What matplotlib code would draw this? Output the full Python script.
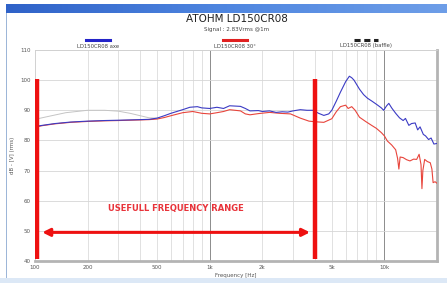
import numpy as np
import matplotlib
matplotlib.use("Agg")
import matplotlib.pyplot as plt
from matplotlib.patches import Rectangle

# -- data ------------------------------------------------------------------
AXE_FREQ = [100, 110, 130, 160, 200, 250, 300, 400, 450, 500, 550, 600, 700,
            770, 850, 900, 1000, 1100, 1200, 1300, 1500, 1600, 1700, 1900,
            2000, 2200, 2400, 2600, 2800, 3000, 3300, 3600, 3900, 4200, 4500,
            4800, 5000, 5300, 5600, 6000, 6300, 6500, 6700, 7200, 7600, 8000,
            8500, 9100, 9600, 9900, 10300, 10600, 11000, 11600, 12200, 12800,
            13200, 13800, 14300, 15000, 15500, 16000, 16700, 17200, 17900,
            18500, 19200, 20000]
AXE_DB = [84.6, 85.0, 85.6, 86.1, 86.4, 86.6, 86.7, 86.9, 87.0, 87.4, 88.2,
          89.0, 90.2, 91.0, 91.2, 90.8, 90.6, 91.0, 90.6, 91.5, 91.3, 90.6,
          89.8, 89.9, 89.6, 89.8, 89.3, 89.5, 89.4, 89.8, 90.2, 90.0, 90.0,
          89.0, 88.3, 88.8, 90.0, 93.0, 96.0, 99.5, 101.3, 100.8, 100.0, 97.0,
          95.2, 94.0, 93.0, 91.8, 90.8, 90.0, 91.5, 92.3, 90.8, 89.0, 87.5,
          86.6, 87.3, 85.0, 85.6, 85.8, 83.5, 84.5, 82.0, 81.5, 80.3, 80.8,
          78.8, 79.0]

DEG30_FREQ = [100, 110, 130, 160, 200, 250, 300, 400, 450, 500, 550, 600, 700,
              800, 900, 1000, 1100, 1200, 1300, 1500, 1600, 1700, 1900, 2200,
              2500, 2900, 3300, 3700, 4000, 4500, 5000, 5300, 5600, 6000, 6200,
              6500, 6800, 7200, 7800, 8500, 9000, 9600, 10000, 10400, 11000,
              11600, 11900, 12100, 12300, 12800, 13400, 14000, 14700, 15300,
              15800, 16200, 16400, 16600, 17000, 17600, 18300, 18700, 19000,
              19500, 20000]
DEG30_DB = [84.4, 84.9, 85.5, 86.0, 86.3, 86.5, 86.6, 86.8, 86.9, 87.1, 87.6,
            88.2, 89.2, 89.6, 89.0, 88.8, 89.2, 89.6, 90.2, 89.8, 88.8, 88.5,
            88.9, 89.3, 89.0, 88.8, 87.4, 86.4, 86.2, 86.0, 87.2, 89.5, 91.2,
            91.7, 90.6, 91.2, 90.0, 87.7, 86.3, 84.9, 84.0, 82.6, 81.5, 79.8,
            78.5, 76.9, 74.0, 70.5, 74.5, 74.3, 73.6, 73.2, 73.8, 73.7, 75.4,
            72.0, 64.0, 70.0, 73.7, 73.0, 72.6, 70.5, 66.0, 66.3, 65.8]

BAFFLE_FREQ = [100, 120, 150, 200, 250, 300, 350, 400, 450, 500]
BAFFLE_DB = [87.0, 88.0, 89.2, 90.0, 90.0, 89.7, 89.0, 88.2, 87.5, 87.4]

RANGE_LOW = 103      # Hz
RANGE_HIGH = 4000    # Hz
RANGE_TOP = 100.3    # dB
RANGE_BOTTOM = 40.8  # dB

X_TICKS = [100, 200, 500, 1000, 2000, 5000, 10000]
X_TICK_LABELS = ["100", "200", "500", "1k", "2k", "5k", "10k"]
Y_TICKS = [40, 50, 60, 70, 80, 90, 100, 110]

W, H = 447, 283
fig = plt.figure(figsize=(W / 100, H / 100), dpi=100)
fig.patch.set_facecolor("white")

# window chrome: title bar, left edge, bottom band
bar = fig.add_axes([6 / W, 1 - 13 / H, 1 - 6 / W, 9 / H])
grad = np.linspace(0, 1, 256).reshape(1, -1)
bar.imshow(grad, aspect="auto", cmap=matplotlib.colors.LinearSegmentedColormap.from_list(
    "tb", ["#2f62c8", "#4f86e0", "#6e9ee8"]))
bar.axis("off")
fig.patches.append(Rectangle((6 / W, 0), 1.2 / W, 1 - 13 / H, transform=fig.transFigure,
                             color="#9db6d8", lw=0))
fig.patches.append(Rectangle((0, 0), 1, 5 / H, transform=fig.transFigure,
                             color="#dce8f6", lw=0))

ax = fig.add_axes([35 / W, 1 - 261 / H, 402 / W, 211 / H])
ax.set_xscale("log")
ax.set_xlim(100, 20000)
ax.set_ylim(40, 110)

# grid
minor = [f * m for f in (100, 1000, 10000) for m in range(1, 10) if f * m <= 20000]
for f in minor:
    if f in (1000, 10000):
        ax.axvline(f, color="#8c8c8c", lw=0.7, zorder=1)
    else:
        ax.axvline(f, color="#dcdcdc", lw=0.6, zorder=1)
for v in Y_TICKS:
    ax.axhline(v, color="#d6d6d6", lw=0.6, zorder=1)

ax.plot(BAFFLE_FREQ, BAFFLE_DB, color="#c4c4c4", lw=0.7, zorder=2)
ax.plot(DEG30_FREQ, DEG30_DB, color="#e8453c", lw=0.8, zorder=3)
ax.plot(AXE_FREQ, AXE_DB, color="#3b3bc4", lw=0.8, zorder=4)

# usable range markers
ax.vlines([RANGE_LOW, RANGE_HIGH], RANGE_BOTTOM, RANGE_TOP, color="#ee1111",
          lw=3.2, zorder=5)
ax.annotate("", xy=(3750, 49.5), xytext=(110, 49.5),
            arrowprops=dict(arrowstyle="<|-|>", color="#ee1111", lw=2.2,
                            mutation_scale=11, shrinkA=0, shrinkB=0), zorder=5)
ax.text(640, 57.3, "USEFULL FREQUENCY RANGE", color="#e8333a", fontsize=6,
        fontweight="bold", ha="center", va="center", zorder=5)

ax.set_xticks(X_TICKS)
ax.set_xticklabels(X_TICK_LABELS)
ax.xaxis.set_minor_locator(matplotlib.ticker.NullLocator())
ax.set_yticks(Y_TICKS)
ax.tick_params(length=0, labelsize=4, colors="#555555", pad=3)
ax.set_xlabel("Frequency [Hz]", fontsize=4, color="#555555", labelpad=2)
ax.set_ylabel("dB - [V] (rms)", fontsize=4, color="#555555", labelpad=4)

for s in ("top", "left"):
    ax.spines[s].set_color("#d0d0d0")
    ax.spines[s].set_linewidth(0.6)
for s in ("bottom", "right"):
    ax.spines[s].set_color("#b4b4b4")
    ax.spines[s].set_linewidth(2.0)

# title + legend header
fig.text(237 / W, 1 - 19 / H, "ATOHM LD150CR08", fontsize=7.5, ha="center",
         va="center", color="#222222")
fig.text(237 / W, 1 - 29 / H, "Signal : 2.83Vrms @1m", fontsize=4, ha="center",
         va="center", color="#444444")
legend = [(98, "LD150CR08 axe", "#2424c8", "-"),
          (235, "LD150CR08 30°", "#e02020", "-"),
          (366, "LD150CR08 (baffle)", "#222222", (0, (2, 1.2)))]
for cx, label, col, ls in legend:
    fig.add_artist(matplotlib.lines.Line2D([(cx - 12) / W, (cx + 12) / W],
                                           [1 - 40 / H, 1 - 40 / H],
                                           transform=fig.transFigure,
                                           color=col, lw=2.2, ls=ls))
    fig.text(cx / W, 1 - 46 / H, label, fontsize=3.8, ha="center", va="center",
             color="#444444")

fig.savefig("out.png", dpi=100)
